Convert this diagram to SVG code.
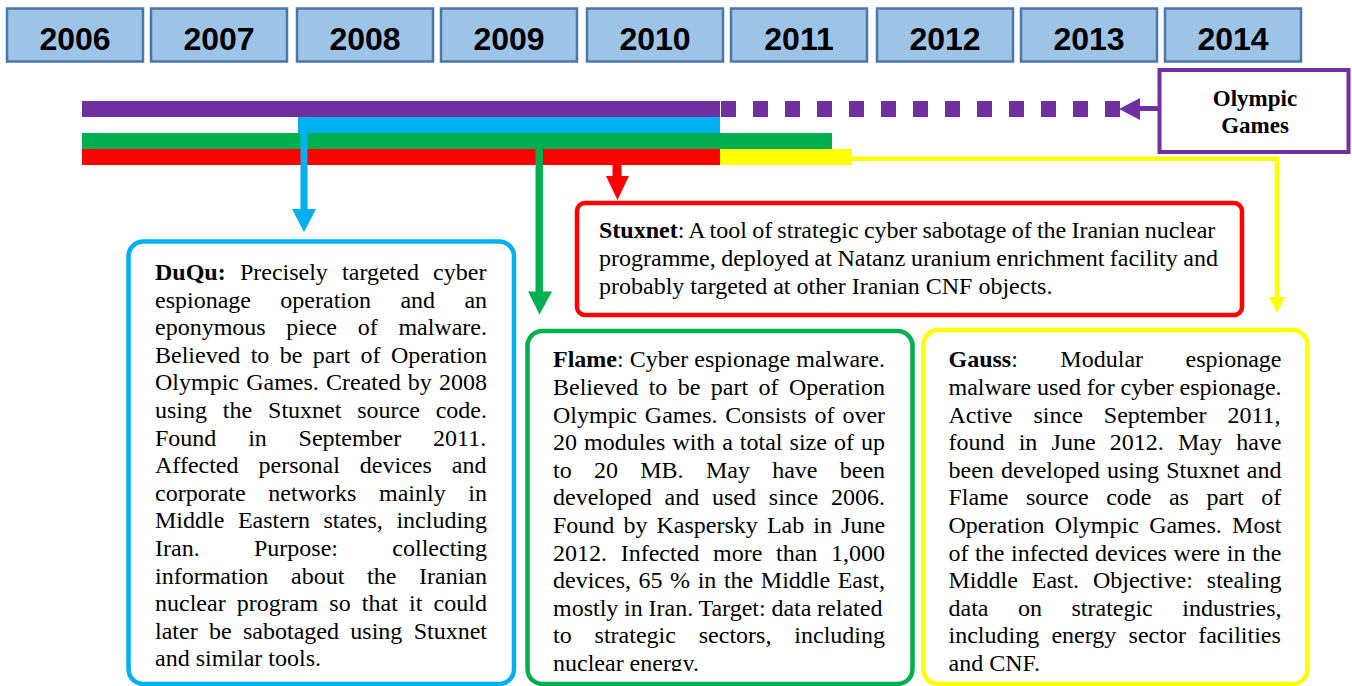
<svg xmlns="http://www.w3.org/2000/svg" width="1352" height="686" viewBox="0 0 1352 686">
<style>
.yr rect{fill:#9dc3e6;stroke:#4a77a6;stroke-width:2.5}
.yr text{font-family:"Liberation Sans",Arial,sans-serif;font-weight:bold;font-size:32px;fill:#000;text-anchor:middle}
.body{font-family:"Liberation Serif","Times New Roman",serif;font-size:24px;fill:#000}
.og{font-family:"Liberation Serif","Times New Roman",serif;font-size:23px;font-weight:bold;fill:#000;text-anchor:middle}
.b{font-weight:bold}
.box{fill:#fff;stroke-width:4.5}
</style>
<defs>
<clipPath id="flameClip"><rect x="527" y="331" width="386" height="340"/></clipPath>
</defs>
<g id="years" class="yr">
<g id="y2006"><rect x="7" y="8.5" width="136" height="53"/><text x="75" y="49.5">2006</text></g>
<g id="y2007"><rect x="151" y="8.5" width="136" height="53"/><text x="219" y="49.5">2007</text></g>
<g id="y2008"><rect x="297" y="8.5" width="136" height="53"/><text x="365" y="49.5">2008</text></g>
<g id="y2009"><rect x="441" y="8.5" width="136" height="53"/><text x="509" y="49.5">2009</text></g>
<g id="y2010"><rect x="587" y="8.5" width="136" height="53"/><text x="655" y="49.5">2010</text></g>
<g id="y2011"><rect x="731" y="8.5" width="136" height="53"/><text x="799" y="49.5">2011</text></g>
<g id="y2012"><rect x="877" y="8.5" width="136" height="53"/><text x="945" y="49.5">2012</text></g>
<g id="y2013"><rect x="1021" y="8.5" width="136" height="53"/><text x="1089" y="49.5">2013</text></g>
<g id="y2014"><rect x="1165" y="8.5" width="136" height="53"/><text x="1233" y="49.5">2014</text></g>
</g>
<g id="bars">
<rect x="82" y="101" width="638" height="16" fill="#7030a0"/>
<line x1="721" y1="109" x2="1121" y2="109" stroke="#7030a0" stroke-width="16" stroke-dasharray="15 17"/>
<rect x="298" y="117" width="422" height="16" fill="#00b0f0"/>
<rect x="82" y="133" width="750" height="16" fill="#00b050"/>
<rect x="82" y="149" width="638" height="16" fill="#ff0000"/>
<rect x="720" y="149" width="132" height="16" fill="#ffff00"/>
</g>
<g id="connectors">
<line x1="1140" y1="108.5" x2="1159" y2="108.5" stroke="#7030a0" stroke-width="5"/>
<polygon points="1119,109 1140,98 1140,120" fill="#7030a0"/>
<rect x="300.5" y="133" width="7" height="77" fill="#00b0f0"/>
<polygon points="292,209 316,209 304,232" fill="#00b0f0"/>
<rect x="535.5" y="149" width="7.5" height="143" fill="#00b050"/>
<polygon points="528,291.5 552,291.5 539.5,314.5" fill="#00b050"/>
<rect x="612.5" y="165" width="9" height="12" fill="#ff0000"/>
<polygon points="606,176 629,176 617.5,200" fill="#ff0000"/>
<polyline points="852,158.7 1277,158.7 1277,298" fill="none" stroke="#ffff00" stroke-width="4.5"/>
<polygon points="1269,297 1285,297 1277,313" fill="#ffff00"/>
</g>
<g id="olympic">
<rect x="1159.5" y="70" width="189" height="82" fill="#fff" stroke="#7030a0" stroke-width="4"/>
<text class="og" x="1255" y="106">Olympic</text>
<text class="og" x="1255" y="133">Games</text>
</g>
<g id="stuxnet">
<rect class="box" x="577" y="203" width="665" height="112" rx="8" stroke="#ff0000" stroke-width="4"/>
<text class="body" x="599" y="238.3" style="word-spacing:-0.75px"><tspan class="b">Stuxnet</tspan>: A tool of strategic cyber sabotage of the Iranian nuclear</text>
<text class="body" x="599" y="265.9" style="word-spacing:-0.5px">programme, deployed at Natanz uranium enrichment facility and</text>
<text class="body" x="599" y="293.5">probably targeted at other Iranian CNF objects.</text>
</g>
<g id="duqu">
<rect class="box" x="128.5" y="241.5" width="385.5" height="442.5" rx="15" stroke="#00b0f0"/>
<text class="body" x="155" y="280" style="word-spacing:8.2px"><tspan class="b">DuQu:</tspan> Precisely targeted cyber</text>
<text class="body" x="155" y="307.6" style="word-spacing:23.4px">espionage operation and an</text>
<text class="body" x="155" y="335.2" style="word-spacing:14.7px">eponymous piece of malware.</text>
<text class="body" x="155" y="362.8" style="word-spacing:4.4px">Believed to be part of Operation</text>
<text class="body" x="155" y="390.4" style="word-spacing:1.2px">Olympic Games. Created by 2008</text>
<text class="body" x="155" y="418" style="word-spacing:9.85px">using the Stuxnet source code.</text>
<text class="body" x="155" y="445.6" style="word-spacing:25.8px">Found in September 2011.</text>
<text class="body" x="155" y="473.2" style="word-spacing:14px">Affected personal devices and</text>
<text class="body" x="155" y="500.8" style="word-spacing:16.7px">corporate networks mainly in</text>
<text class="body" x="155" y="528.4" style="word-spacing:7.6px">Middle Eastern states, including</text>
<text class="body" x="155" y="556" style="word-spacing:48.35px">Iran. Purpose: collecting</text>
<text class="body" x="155" y="583.6" style="word-spacing:16.7px">information about the Iranian</text>
<text class="body" x="155" y="611.2" style="word-spacing:5.2px">nuclear program so that it could</text>
<text class="body" x="155" y="638.8" style="word-spacing:5.35px">later be sabotaged using Stuxnet</text>
<text class="body" x="155" y="666.4">and similar tools.</text>
</g>
<g id="flame">
<rect class="box" x="527.5" y="331" width="385" height="353" rx="15" stroke="#00b050"/>
<g clip-path="url(#flameClip)">
<text class="body" x="553" y="367.3" style="word-spacing:0px"><tspan class="b">Flame</tspan>: Cyber espionage malware.</text>
<text class="body" x="553" y="394.9" style="word-spacing:4.4px">Believed to be part of Operation</text>
<text class="body" x="553" y="422.5" style="word-spacing:1.85px">Olympic Games. Consists of over</text>
<text class="body" x="553" y="450.1" style="word-spacing:1.05px">20 modules with a total size of up</text>
<text class="body" x="553" y="477.7" style="word-spacing:16.3px">to 20 MB. May have been</text>
<text class="body" x="553" y="505.3" style="word-spacing:6.85px">developed and used since 2006.</text>
<text class="body" x="553" y="532.9" style="word-spacing:3.08px">Found by Kaspersky Lab in June</text>
<text class="body" x="553" y="560.5" style="word-spacing:7.7px">2012. Infected more than 1,000</text>
<text class="body" x="553" y="588.1" style="word-spacing:1.57px">devices, 65 % in the Middle East,</text>
<text class="body" x="553" y="615.7" style="word-spacing:-0.25px">mostly in Iran. Target: data related</text>
<text class="body" x="553" y="643.3" style="word-spacing:16.9px">to strategic sectors, including</text>
<text class="body" x="553" y="670.9">nuclear energy.</text>
</g>
</g>
<g id="gauss">
<rect class="box" x="923.3" y="330" width="384.2" height="354" rx="15" stroke="#ffff00"/>
<text class="body" x="948.5" y="367.3" style="word-spacing:36.5px"><tspan class="b">Gauss</tspan>: Modular espionage</text>
<text class="body" x="948.5" y="394.9" style="word-spacing:-0.2px">malware used for cyber espionage.</text>
<text class="body" x="948.5" y="422.5" style="word-spacing:15px">Active since September 2011,</text>
<text class="body" x="948.5" y="450.1" style="word-spacing:8.2px">found in June 2012. May have</text>
<text class="body" x="948.5" y="477.7" style="word-spacing:1.26px">been developed using Stuxnet and</text>
<text class="body" x="948.5" y="505.3" style="word-spacing:11.5px">Flame source code as part of</text>
<text class="body" x="948.5" y="532.9" style="word-spacing:4.34px">Operation Olympic Games. Most</text>
<text class="body" x="948.5" y="560.5" style="word-spacing:0.63px">of the infected devices were in the</text>
<text class="body" x="948.5" y="588.1" style="word-spacing:7.9px">Middle East. Objective: stealing</text>
<text class="body" x="948.5" y="615.7" style="word-spacing:23.5px">data on strategic industries,</text>
<text class="body" x="948.5" y="643.3" style="word-spacing:6.3px">including energy sector facilities</text>
<text class="body" x="948.5" y="670.9">and CNF.</text>
</g>
</svg>
